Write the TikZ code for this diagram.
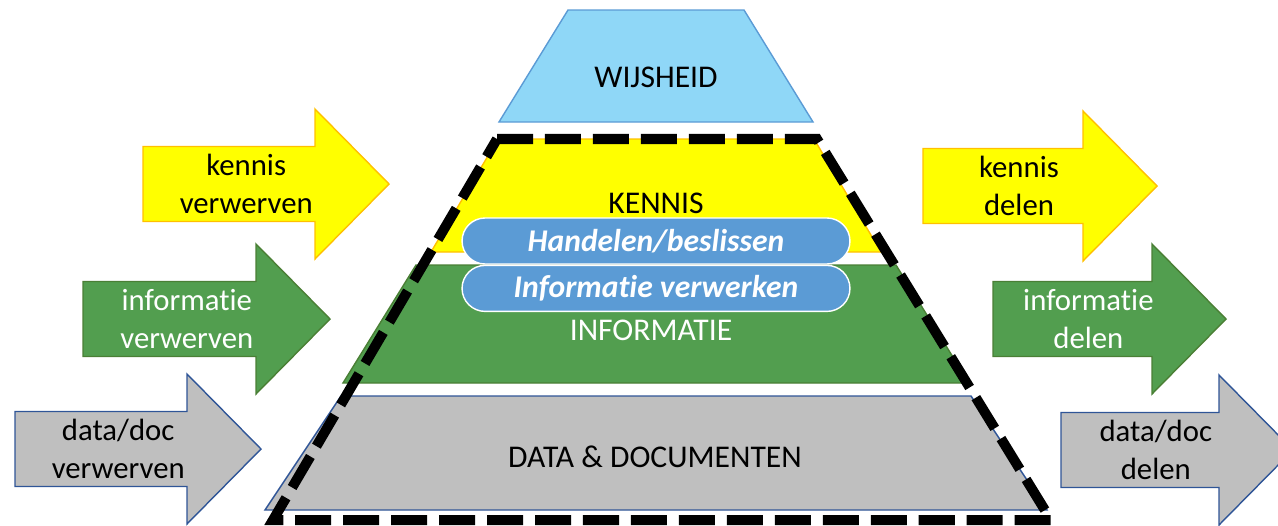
\documentclass[tikz,border=0pt]{standalone}
\usepackage{fontspec}
\setmainfont{Carlito}[Ligatures=NoCommon]
\usetikzlibrary{positioning}

\definecolor{geel}{HTML}{FFFF00}
\definecolor{goud}{HTML}{FFC000}
\definecolor{groen}{HTML}{529E4F}
\definecolor{donkergroen}{HTML}{4A7F35}
\definecolor{grijs}{HTML}{BFBFBF}
\definecolor{donkerblauw}{HTML}{2F5597}
\definecolor{lichtblauw}{HTML}{8FD7F7}
\definecolor{middenblauw}{HTML}{5B9BD5}

% arrow: style, name, left x, mid y, body length, text
\newcommand{\pijl}[6]{%
  \draw[#1] (#3,#4-37.5) -- ++(#5,0) -- ++(0,-37.5) -- ++(74,75) -- ++(-74,75)
    -- ++(0,-37.5) -- (#3,#4+37.5) -- cycle;
  \node[pijltekst, text=#1txt] (#2) at (#3+0.6*#5,#4) {#6};
}

\begin{document}
\begin{tikzpicture}[x=0.02cm, y=-0.02cm,
    tekst/.style={align=center, font=\fontsize{18}{21}\selectfont},
    pijltekst/.style={align=center, font=\fontsize{17.5}{21.5}\selectfont},
    wijs/.style={fill=lichtblauw, draw=middenblauw, line width=0.8pt},
    kennis/.style={fill=geel, draw=goud, line width=0.8pt},
    info/.style={fill=groen, draw=donkergroen, line width=0.8pt},
    data/.style={fill=grijs, draw=donkerblauw, line width=0.8pt},
    omlijning/.style={draw=black, line width=5.7pt, dash pattern=on 20.5pt off 6.8pt},
    actie/.style={fill=middenblauw, draw=white, line width=0.8pt, text=white,
      minimum width=7.76cm, minimum height=0.92cm, rounded corners=0.46cm,
      font=\fontsize{18}{21}\selectfont\bfseries\itshape}]
    \colorlet{kennistxt}{black}
    \colorlet{infotxt}{white}
    \colorlet{datatxt}{black}
    \useasboundingbox (0,0) rectangle (1278,525);
    \clip (0,0) rectangle (1278,525);

    % pyramid layers
    \draw[wijs] (568,10) -- (744,10) -- (813,122) -- (499,122) -- cycle;
    \draw[kennis] (498,139) -- (814,139) -- (881,252) -- (431,252) -- cycle;
    \draw[info] (416,265) -- (896,265) -- (969,383) -- (343,383) -- cycle;
    \draw[data] (341,396) -- (971,396) -- (1047,510) -- (265,510) -- cycle;
    \node[tekst] (wijsheid) at (656,77) {WIJSHEID};
    \node[tekst] (kennislaag) at (656,203) {KENNIS};
    \node[tekst, text=white] (infolaag) at (651,330) {INFORMATIE};
    \node[tekst] (datalaag) at (655,457) {DATA \& DOCUMENTEN};

    % arrows in
    \pijl{kennis}{kverw}{143}{184}{172}{kennis\\verwerven}
    \pijl{info}{iverw}{83}{319}{173}{informatie\\verwerven}
    \pijl{data}{dverw}{15}{449}{172}{data/doc\\verwerven}
    % arrows out
    \pijl{kennis}{kdel}{923}{186}{160}{kennis\\delen}
    \pijl{info}{idel}{993}{319}{159}{informatie\\delen}
    \pijl{data}{ddel}{1061}{450}{158}{data/doc\\delen}

    % dashed outline
    \draw[omlijning] (497,139) -- (817,139) -- (1051,520) -- (273,520) -- cycle;

    % actions
    \node[actie] (handelen) at (656,241) {Handelen/beslissen};
    \node[actie, below=0pt of handelen] (verwerken) {Informatie verwerken};
\end{tikzpicture}
\end{document}
